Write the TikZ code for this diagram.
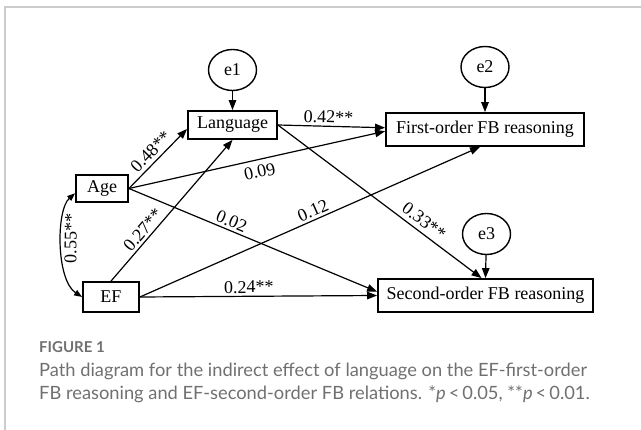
\documentclass[tikz,border=0pt]{standalone}
\usepackage{fontspec}
\setmainfont{Liberation Serif}
\newfontfamily\capfont{Lato}
\usetikzlibrary{arrows.meta,shapes.geometric}
\definecolor{capgray}{RGB}{112,112,112}
\definecolor{framegray}{RGB}{204,204,204}

\begin{document}
\begin{tikzpicture}[x=1pt,y=-1pt,font=\fontsize{18}{20}\selectfont,
  var/.style={draw,line width=1.8pt,inner sep=0pt},
  err/.style={draw,ellipse,line width=1.4pt,minimum width=48pt,minimum height=41pt,inner sep=0pt},
  path/.style={-{Triangle[length=10pt,width=7.5pt]},line width=1.2pt},
  coef/.style={sloped,inner sep=2.5pt}]
  \useasboundingbox (0,0) rectangle (641,430);
  % frame
  \draw[framegray,line width=1.5pt] (5,430) -- (5,7) -- (641,7);
  % variables
  \node[var,minimum width=89pt,minimum height=28pt] (Language) at (232.5,125) {Language};
  \node[var,minimum width=198pt,minimum height=33pt] (First) at (485,129.5) {First-order FB reasoning};
  \node[var,minimum width=52pt,minimum height=27pt] (Age) at (102,188.5) {Age};
  \node[var,minimum width=56pt,minimum height=30pt] (EF) at (111,297) {EF};
  \node[var,minimum width=215pt,minimum height=33pt] (Second) at (485.5,295.5) {Second-order FB reasoning};
  % residuals
  \node[err] (e1) at (232.5,70) {e1};
  \node[err] (e2) at (485,67) {e2};
  \node[err] (e3) at (486.5,234) {e3};
  \draw[path] (e1) -- (Language);
  \draw[path] (e2) -- (First);
  \draw[path] (e3) -- (Second.north);
  % paths
  \draw[path] (Age.east) -- (Language.185) node[coef,pos=0.5,above=1pt] {0.48**};
  \draw[path] (Age.east) -- (First.181) node[coef,pos=0.5,below=3pt] {0.09};
  \draw[path] (Age.east) -- (Second.178.5) node[coef,pos=0.4,above] {0.02};
  \draw[path] (EF.north) -- (Language.south) node[coef,pos=0.32,above] {0.27**};
  \draw[path] (EF.east) -- ([xshift=-5pt]First.south) node[coef,pos=0.52,above] {0.12};
  \draw[path] (EF.east) -- (Second.west) node[coef,pos=0.46,above] {0.24**};
  \draw[path] (Language.east) -- (First.179) node[coef,pos=0.47,above] {0.42**};
  \draw[path] (Language.east) -- ([xshift=-4pt]Second.north) node[coef,pos=0.685,above=2pt] {0.33**};
  % correlation
  \draw[{Triangle[length=8pt,width=6pt]}-{Triangle[length=8pt,width=6pt]},line width=1.2pt]
    (EF.west) .. controls (56,280) and (56,210) .. (Age.190)
    node[coef,pos=0.55,below] {0.55**};
  % caption
  \node[anchor=base west,font=\capfont\fontsize{15}{18}\selectfont\bfseries,text=capgray,inner sep=0pt] (fig) at (39,353) {FIGURE 1};
  \node[anchor=base west,font=\capfont\fontsize{18.3}{22}\selectfont,text=capgray,inner sep=0pt] (cap1) at (39,377) {Path diagram for the indirect effect of language on the EF-first-order};
  \node[anchor=base west,font=\capfont\fontsize{18.3}{22}\selectfont,text=capgray,inner sep=0pt] (cap2) at (39,400) {FB reasoning and EF-second-order FB relations. *\textit{p}\,<\,0.05, **\textit{p}\,<\,0.01.};
\end{tikzpicture}
\end{document}
